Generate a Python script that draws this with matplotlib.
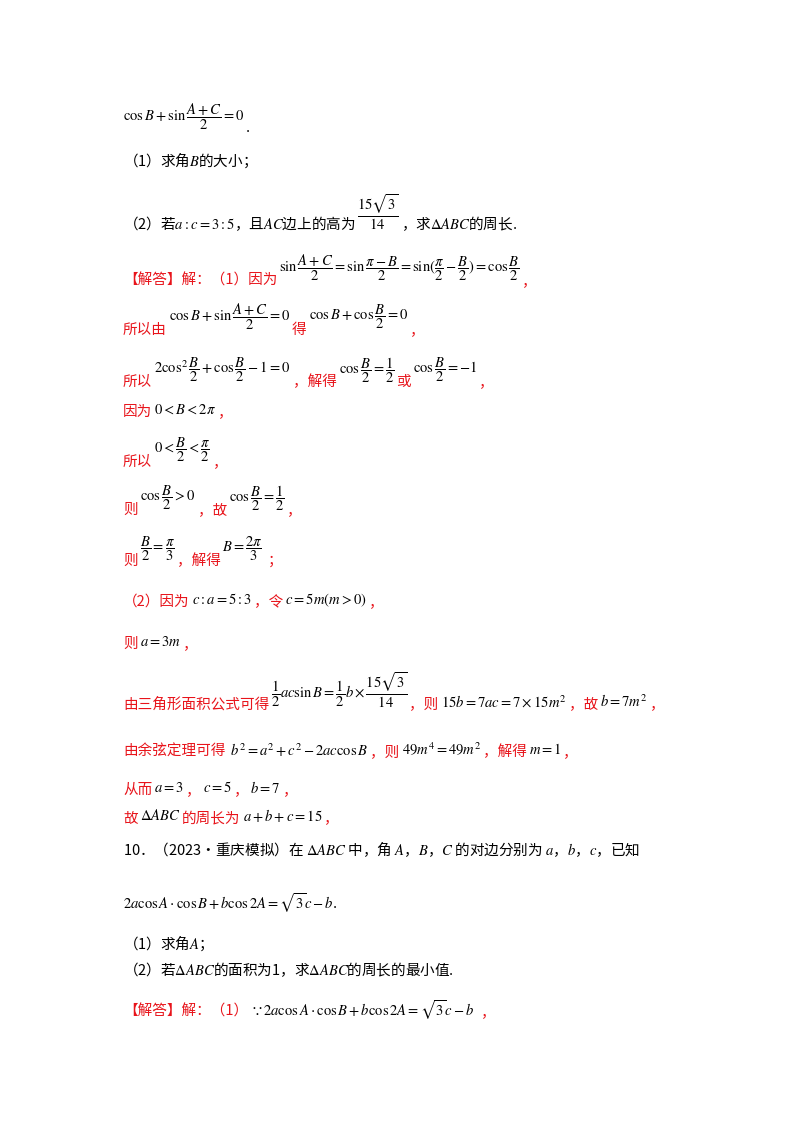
import matplotlib.pyplot as plt

plt.rcParams['font.family'] = ['Noto Sans CJK SC', 'DejaVu Sans']
plt.rcParams['mathtext.fontset'] = 'stix'

RED = '#e8141b'
BLK = '#000000'

# each segment: (x px, y px, text, colour)
question = [
    (123, 117, r"$\cos B+\sin\dfrac{A+C}{2}=0$", BLK), (243, 128, ".", BLK),
    (123, 160, r"（1）求角$B$的大小；", BLK),
    (123, 224, r"（2）若$a:c=3:5$，且$AC$边上的高为", BLK),
    (355, 212, r"$\dfrac{15\sqrt{3}}{14}$", BLK),
    (393, 224, r"，求$\Delta ABC$的周长.", BLK),
]

answer1 = [
    (123, 281, "【解答】解：（1）因为", RED),
    (270, 268, r"$\sin\dfrac{A+C}{2}=\sin\dfrac{\pi-B}{2}=\sin(\dfrac{\pi}{2}-\dfrac{B}{2})=\cos\dfrac{B}{2}$", BLK),
    (518, 281, "，", RED),
    (123, 330, "所以由", RED), (165, 317, r"$\cos B+\sin\dfrac{A+C}{2}=0$", BLK),
    (287, 330, "得", RED), (302, 317, r"$\cos B+\cos\dfrac{B}{2}=0$", BLK), (398, 330, "，", RED),
    (123, 382, "所以", RED), (150, 370, r"$2\cos^2\dfrac{B}{2}+\cos\dfrac{B}{2}-1=0$", BLK),
    (283, 382, "，解得", RED), (320, 370, r"$\cos\dfrac{B}{2}=\dfrac{1}{2}$", BLK),
    (388, 382, "或", RED), (403, 370, r"$\cos\dfrac{B}{2}=-1$", BLK), (463, 382, "，", RED),
    (123, 412, "因为", RED), (152, 410, r"$0<B<2\pi$", BLK), (215, 412, "，", RED),
    (123, 462, "所以", RED), (150, 450, r"$0<\dfrac{B}{2}<\dfrac{\pi}{2}$", BLK), (210, 462, "，", RED),
    (123, 510, "则", RED), (138, 498, r"$\cos\dfrac{B}{2}>0$", BLK),
    (198, 510, "，故", RED), (222, 498, r"$\cos\dfrac{B}{2}=\dfrac{1}{2}$", BLK), (280, 510, "，", RED),
    (123, 561, "则", RED), (138, 549, r"$\dfrac{B}{2}=\dfrac{\pi}{3}$", BLK),
    (175, 561, "，解得", RED), (222, 549, r"$B=\dfrac{2\pi}{3}$", BLK), (268, 561, "；", RED),
]

answer2 = [
    (123, 602, "（2）因为", RED), (191, 600, r"$c:a=5:3$", BLK),
    (246, 602, "，令", RED), (270, 600, r"$c=5m(m>0)$", BLK), (360, 602, "，", RED),
    (123, 644, "则", RED), (138, 642, r"$a=3m$", BLK), (180, 644, "，", RED),
    (123, 704, "由三角形面积公式可得", RED),
    (271, 690, r"$\dfrac{1}{2}ac\sin B=\dfrac{1}{2}b\times\dfrac{15\sqrt{3}}{14}$", BLK),
    (403, 704, "，则", RED), (431, 702, r"$15b=7ac=7\times15m^2$", BLK),
    (569, 704, "，故", RED), (597, 702, r"$b=7m^2$", BLK), (642, 704, "，", RED),
    (123, 752, "由余弦定理可得", RED), (230, 750, r"$b^2=a^2+c^2-2ac\cos B$", BLK),
    (367, 752, "，则", RED), (393, 750, r"$49m^4=49m^2$", BLK),
    (471, 752, "，解得", RED), (517, 750, r"$m=1$", BLK), (550, 752, "，", RED),
    (123, 790, "从而", RED), (154, 788, r"$a=3$", BLK), (184, 790, "，", RED),
    (198, 788, r"$c=5$", BLK), (227, 790, "，", RED), (241, 788, r"$b=7$", BLK), (269, 790, "，", RED),
    (123, 818, "故", RED), (138, 816, r"$\Delta ABC$", BLK), (176, 818, "的周长为", RED),
    (235, 816, r"$a+b+c=15$", BLK), (318, 818, "，", RED),
]

problem10 = [
    (123, 849, r"10．（2023•重庆模拟）在 $\Delta ABC$ 中，角 $A$，$B$，$C$ 的对边分别为 $a$，$b$，$c$，已知", BLK),
    (123, 903, r"$2a\cos A\cdot\cos B+b\cos 2A=\sqrt{3}c-b$.", BLK),
    (123, 943, r"（1）求角$A$；", BLK),
    (123, 970, r"（2）若$\Delta ABC$的面积为1，求$\Delta ABC$的周长的最小值.", BLK),
    (123, 1012, "【解答】解：（1）", RED),
    (250, 1010, r"$\because 2a\cos A\cdot\cos B+b\cos 2A=\sqrt{3}c-b$", BLK),
    (481, 1012, "，", RED),
]

W, H = 800, 1132
fig = plt.figure(figsize=(W / 100, H / 100), dpi=100)
fig.patch.set_facecolor('white')
renderer = fig.canvas.get_renderer()

for block in (question, answer1, answer2, problem10):
    prev_x, prev_end = None, 0
    for x, y, s, c in block:
        if prev_x is not None and x > prev_x:
            x = max(x, prev_end + 2)  # same line: never run into the previous piece
        t = fig.text(x / W, 1 - y / H, s, color=c, fontsize=10.5, ha='left', va='center')
        bb = t.get_window_extent(renderer)
        prev_x, prev_end = x, bb.x1
        if bb.x0 < x - 0.5:
            pass

fig.savefig('out.png', dpi=100, facecolor='white')
